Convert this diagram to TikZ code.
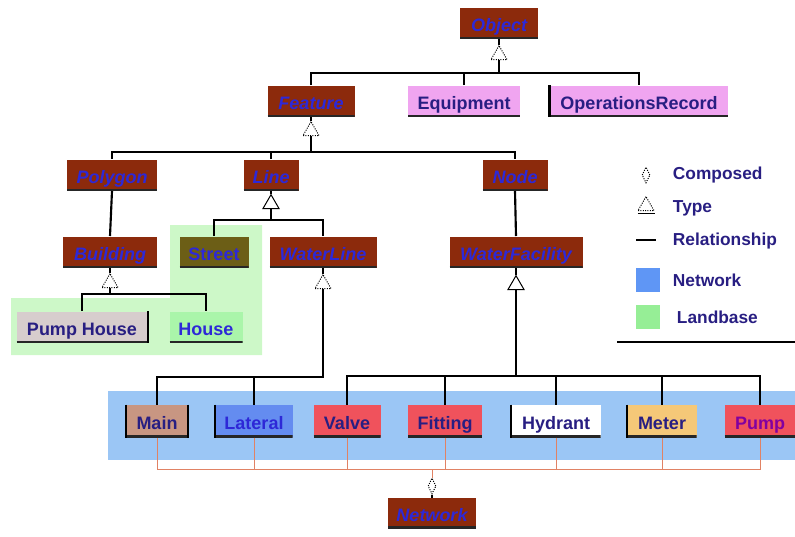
\documentclass[tikz,border=0pt]{standalone}
\usepackage{fontspec}
\setmainfont{Liberation Sans}
\usetikzlibrary{shapes.geometric}

\definecolor{brn}{RGB}{140,42,12}
\definecolor{clsblue}{RGB}{45,40,215}
\definecolor{navy}{RGB}{40,30,130}
\definecolor{pinkbox}{RGB}{240,165,240}
\definecolor{olive}{RGB}{108,94,22}
\definecolor{landbg}{RGB}{205,248,200}
\definecolor{landsq}{RGB}{150,238,150}
\definecolor{netbg}{RGB}{155,198,245}
\definecolor{netsq}{RGB}{95,150,245}
\definecolor{tanbox}{RGB}{200,150,130}
\definecolor{latbox}{RGB}{100,140,240}
\definecolor{redbox}{RGB}{240,82,92}
\definecolor{meterbox}{RGB}{245,200,120}
\definecolor{greybox}{RGB}{215,205,205}
\definecolor{housebox}{RGB}{170,245,170}
\definecolor{netline}{RGB}{225,130,100}
\definecolor{pumptext}{RGB}{130,0,160}

\tikzset{every picture/.style={line width=0.75pt}}
\tikzset{
  lowedge/.style={path picture={\draw[line width=2.6pt,black!85] (path picture bounding box.south west) -- (path picture bounding box.south east);}},
  box/.style={minimum height=23.25pt, inner sep=0pt, text height=12.6pt, text depth=0pt, lowedge, font=\bfseries\fontsize{13.5}{16}\selectfont, text=navy},
  cls/.style={box, fill=brn, text=clsblue, font=\bfseries\itshape\fontsize{13.5}{16}\selectfont},
  typetri/.style={draw, densely dotted, regular polygon, regular polygon sides=3, minimum size=14pt, inner sep=0pt, fill=white},
  compdia/.style={draw, densely dotted, diamond, minimum width=6pt, minimum height=12pt, inner sep=0pt, fill=white},
  rel/.style={line width=1.6pt, black},
  legtext/.style={anchor=west, text=navy, font=\bfseries\fontsize{13}{15}\selectfont}
}

\begin{document}
\begin{tikzpicture}[x=0.75pt,y=0.75pt,yscale=-1,xscale=1]
\useasboundingbox (0,0) rectangle (795,536);

%Shape: Landbase region
\fill[landbg] (11,298) -- (170,298) -- (170,225) -- (262,225) -- (262,355) -- (11,355) -- cycle;
%Shape: Network band
\fill[netbg] (108,391) rectangle (795,460);
%Straight Lines: legend separator
\draw[line width=1.2pt] (617,342) -- (795,342);

% Class nodes
\node[cls, minimum width=58.5pt] (object) at (499,23) {Object};
\node[cls, minimum width=65.25pt] (feature) at (311,101) {Feature};
\node[box, fill=pinkbox, minimum width=84pt] (equip) at (464,101) {Equipment};
\node[box, fill=pinkbox, minimum width=133.5pt, draw=none] (ops) at (639,101) {OperationsRecord};
\node[cls, minimum width=67.5pt] (polygon) at (112,175) {Polygon};
\node[cls, minimum width=41.25pt] (line) at (271,175) {Line};
\node[cls, minimum width=48.75pt] (nodecls) at (515,175) {Node};
\node[cls, minimum width=70.5pt] (building) at (110,252) {Building};
\node[box, fill=olive, text=clsblue, minimum width=51.75pt] (street) at (214,252) {Street};
\node[cls, minimum width=80.25pt] (waterline) at (323,252) {WaterLine};
\node[cls, minimum width=99.75pt] (waterfac) at (516,252) {WaterFacility};
\node[box, fill=greybox, minimum width=98.25pt] (pumphouse) at (82,327) {Pump House};
\node[box, fill=housebox, text=clsblue, minimum width=54.75pt] (house) at (206,327) {House};

% Network members
\node[box, fill=tanbox, minimum width=45.75pt, minimum height=24pt] (main) at (157,421) {Main};
\node[box, fill=latbox, text=clsblue, minimum width=57.75pt, minimum height=24pt] (lateral) at (254,421) {Lateral};
\node[box, fill=redbox, minimum width=50.25pt, minimum height=24pt] (valve) at (347,421) {Valve};
\node[box, fill=redbox, minimum width=55.5pt, minimum height=24pt] (fitting) at (445,421) {Fitting};
\node[box, fill=white, minimum width=66.75pt, minimum height=24pt] (hydrant) at (556,421) {Hydrant};
\node[box, fill=meterbox, minimum width=51.75pt, minimum height=24pt] (meter) at (662,421) {Meter};
\node[box, fill=redbox, text=pumptext, minimum width=53.25pt, minimum height=24pt] (pump) at (760,421) {Pump};
\node[cls, minimum width=66pt, minimum height=22.5pt] (network) at (432,513) {Network};

% side edges
\draw[line width=1.6pt] (ops.north west) -- (ops.south west);
\draw[line width=1.6pt] (pumphouse.north east) -- (pumphouse.south east);
\foreach \n in {main,lateral,hydrant,meter}
  \draw[line width=1.2pt] (\n.north west) -- (\n.south west);
\draw[line width=1.2pt] (main.north east) -- (main.south east);

% Type triangles
\node[typetri] (objtri) at (499,55) {};
\node[typetri] (feattri) at (311,131) {};
\node[typetri, solid] (linetri) at (271,204) {};
\node[typetri] (bldtri) at (110,283) {};
\node[typetri] (wltri) at (323,284) {};
\node[typetri, solid] (wftri) at (516,285) {};

% bar levels
\coordinate (bar1) at (0,73);
\coordinate (bar2) at (0,152);
\coordinate (bar3) at (0,220);
\coordinate (bar4) at (0,294);
\coordinate (bar5) at (0,377);
\coordinate (bar6) at (0,376);
\coordinate (brk) at (0,469);

%Straight Lines: Object
\draw[rel] (object.south) -- (objtri.north);
\draw[rel] (objtri.south) -- (objtri.south |- bar1);
\draw[rel] (feature.north) |- (ops.north |- bar1) -- (ops.north);
\draw[rel] (equip.north) -- (equip.north |- bar1);
%Straight Lines: Feature
\draw[rel] (feature.south) -- (feattri.north);
\draw[rel] (feattri.south) -- (feattri.south |- bar2);
\draw[rel] (polygon.north) |- (nodecls.north |- bar2) -- (nodecls.north);
\draw[rel] (line.north) -- (line.north |- bar2);
%Straight Lines: Polygon, Node
\draw[rel] (polygon.south) -- (building.north);
\draw[rel] (nodecls.south) -- (waterfac.north);
%Straight Lines: Line
\draw[rel] (line.south) -- (linetri.north);
\draw[rel] (linetri.south) -- (linetri.south |- bar3);
\draw[rel] (street.north) |- (waterline.north |- bar3) -- (waterline.north);
%Straight Lines: Building
\draw[rel] (building.south) -- (bldtri.north);
\draw[rel] (bldtri.south) -- (bldtri.south |- bar4);
\draw[rel] (pumphouse.north) |- (house.north |- bar4) -- (house.north);
%Straight Lines: WaterLine
\draw[rel] (waterline.south) -- (wltri.north);
\draw[rel] (main.north) |- (wltri.south |- bar5) -- (wltri.south);
\draw[rel] (lateral.north) -- (lateral.north |- bar5);
%Straight Lines: WaterFacility
\draw[rel] (waterfac.south) -- (wftri.north);
\draw[rel] (wftri.south) -- (wftri.south |- bar6);
\draw[rel] (valve.north) |- (pump.north |- bar6) -- (pump.north);
\foreach \n in {fitting,hydrant,meter}
  \draw[rel] (\n.north) -- (\n.north |- bar6);

%Straight Lines: Network composition
\draw[netline, line width=0.6pt] (main.south) |- (pump.south |- brk) -- (pump.south);
\foreach \n in {lateral,valve,fitting,hydrant,meter}
  \draw[netline, line width=0.4pt] (\n.south) -- (\n.south |- brk);
\node[compdia] (netdia) at (432,486) {};
\draw[netline, line width=0.6pt] (netdia.north) -- (netdia.north |- brk);
\draw[line width=1pt] (netdia.south) -- (network.north);

% Legend
\node[compdia] (lgdia) at (646,175) {};
\node[legtext] (lgcomp) at (668,175) {Composed};
\node[typetri] (lgtri) at (646,206) {};
\draw[line width=1pt] (lgtri.south west) ++(-3,2) -- ++(17,0);
\node[legtext] (lgtype) at (668,208) {Type};
\coordinate (lgrela) at (636,240);
\coordinate (lgrelb) at (656,240);
\draw[line width=1.4pt] (lgrela) -- (lgrelb);
\node[legtext] (lgrel) at (668,241) {Relationship};
\node[fill=netsq, minimum size=18pt, inner sep=0pt] (lgnet) at (648,280) {};
\node[legtext] (lgnett) at (668,280) {Network};
\node[fill=landsq, minimum size=18pt, inner sep=0pt] (lgland) at (648,317) {};
\node[legtext] (lglandt) at (672,317) {Landbase};

\end{tikzpicture}
\end{document}
